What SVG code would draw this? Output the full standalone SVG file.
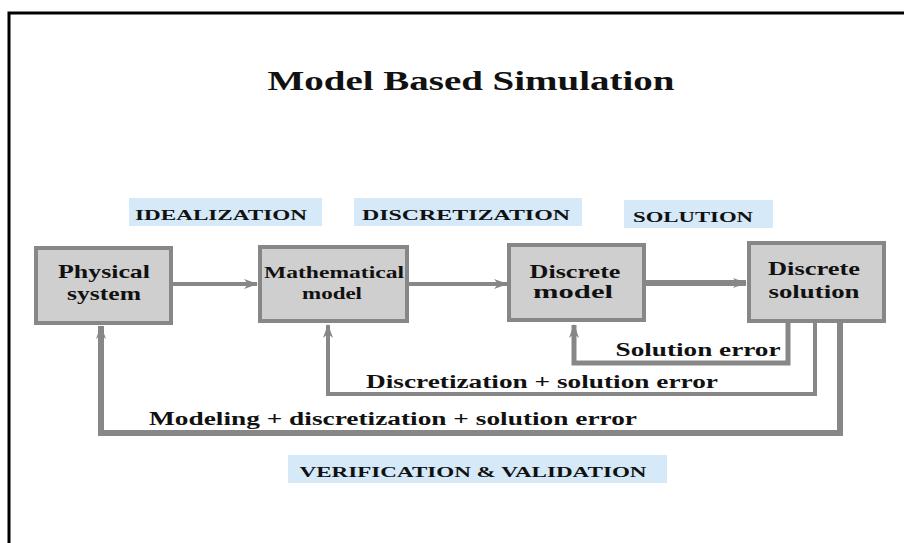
<svg xmlns="http://www.w3.org/2000/svg" width="904" height="543" viewBox="0 0 904 543">
<defs>
<style>
.t{font-family:"Liberation Serif","Times New Roman",serif;font-weight:bold;fill:#111}
.box{fill:#cfcfcf;stroke:#878787;stroke-width:4}
.lab{fill:#d5e9f8}
.ln{fill:none;stroke:#878787;stroke-linejoin:miter}
</style>
<marker id="ah" viewBox="0 0 14 10" refX="13" refY="5" markerWidth="14" markerHeight="10" markerUnits="userSpaceOnUse" orient="auto">
<path d="M0,0 L14,5 L0,10 L4,5 z" fill="#878787"/>
</marker>
</defs>
<rect width="904" height="543" fill="#fff"/>
<path d="M9,543 V13 H904" fill="none" stroke="#000" stroke-width="3"/>
<text class="t" x="471" y="90" font-size="28" text-anchor="middle" textLength="407" lengthAdjust="spacingAndGlyphs">Model Based Simulation</text>

<g id="label-idealization"><rect class="lab" x="129" y="198" width="193" height="28"/><text class="t" x="221" y="220" font-size="15" text-anchor="middle" textLength="172" lengthAdjust="spacingAndGlyphs">IDEALIZATION</text></g>
<g id="label-discretization"><rect class="lab" x="354" y="198" width="228" height="28"/><text class="t" x="466" y="220" font-size="15" text-anchor="middle" textLength="208" lengthAdjust="spacingAndGlyphs">DISCRETIZATION</text></g>
<g id="label-solution"><rect class="lab" x="624" y="200" width="149" height="28"/><text class="t" x="693" y="222" font-size="15" text-anchor="middle" textLength="120" lengthAdjust="spacingAndGlyphs">SOLUTION</text></g>
<g id="label-vv"><rect class="lab" x="288" y="455" width="379" height="28"/><text class="t" x="473" y="477" font-size="15" text-anchor="middle" textLength="347" lengthAdjust="spacingAndGlyphs">VERIFICATION &amp; VALIDATION</text></g>

<g id="connectors">
<path class="ln" d="M172,284 H257" stroke-width="4" marker-end="url(#ah)"/>
<path class="ln" d="M409,284 H507" stroke-width="4" marker-end="url(#ah)"/>
<path class="ln" d="M645,283 H746" stroke-width="6" marker-end="url(#ah)"/>
<path class="ln" d="M788,323 V363 H574 V325" stroke-width="5" marker-end="url(#ah)"/>
<path class="ln" d="M815,323 V394 H328 V325" stroke-width="4" marker-end="url(#ah)"/>
<path class="ln" d="M840,323 V433 H101 V326" stroke-width="6" marker-end="url(#ah)"/>
<text class="t" x="698" y="356" font-size="18" text-anchor="middle" textLength="165" lengthAdjust="spacingAndGlyphs">Solution error</text>
<text class="t" x="542" y="388" font-size="18" text-anchor="middle" textLength="352" lengthAdjust="spacingAndGlyphs">Discretization + solution error</text>
<text class="t" x="393" y="425" font-size="18" text-anchor="middle" textLength="488" lengthAdjust="spacingAndGlyphs">Modeling + discretization + solution error</text>
</g>

<g id="node-physical"><rect class="box" x="36" y="248" width="135" height="75"/><text class="t" x="104" y="278" font-size="19" text-anchor="middle" textLength="92" lengthAdjust="spacingAndGlyphs">Physical</text><text class="t" x="104" y="300" font-size="19" text-anchor="middle" textLength="74" lengthAdjust="spacingAndGlyphs">system</text></g>
<g id="node-math"><rect class="box" x="260" y="247" width="147" height="74"/><text class="t" x="334" y="278" font-size="17" text-anchor="middle" textLength="140" lengthAdjust="spacingAndGlyphs">Mathematical</text><text class="t" x="332" y="299" font-size="17" text-anchor="middle" textLength="60" lengthAdjust="spacingAndGlyphs">model</text></g>
<g id="node-discrete-model"><rect class="box" x="509" y="245" width="135" height="75"/><text class="t" x="575" y="278" font-size="19" text-anchor="middle" textLength="91" lengthAdjust="spacingAndGlyphs">Discrete</text><text class="t" x="573" y="298" font-size="19" text-anchor="middle" textLength="80" lengthAdjust="spacingAndGlyphs">model</text></g>
<g id="node-discrete-solution"><rect class="box" x="749" y="243" width="135" height="78"/><text class="t" x="814" y="275" font-size="19" text-anchor="middle" textLength="92" lengthAdjust="spacingAndGlyphs">Discrete</text><text class="t" x="814" y="298" font-size="19" text-anchor="middle" textLength="91" lengthAdjust="spacingAndGlyphs">solution</text></g>
</svg>
